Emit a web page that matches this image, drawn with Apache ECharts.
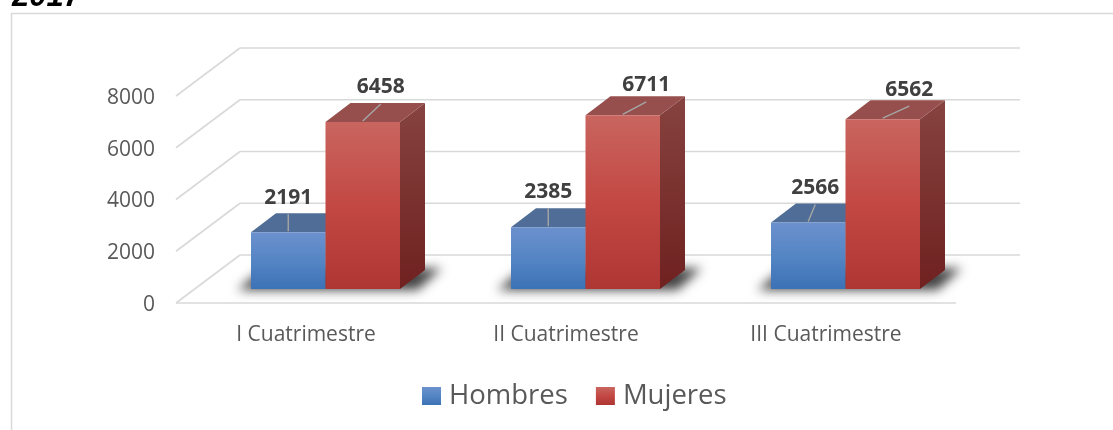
<!DOCTYPE html>
<html>
<head>
<meta charset="utf-8">
<style>html,body{margin:0;padding:0;background:#fff}#c{width:1113px;height:430px}</style>
<script src="https://cdn.jsdelivr.net/npm/echarts@6/dist/echarts.min.js"></script>
</head>
<body>
<div id="c"></div>
<script>
const categories = ['I Cuatrimestre', 'II Cuatrimestre', 'III Cuatrimestre'];
const hombres = [2191, 2385, 2566];
const mujeres = [6458, 6711, 6562];
const yTicks = [0, 2000, 4000, 6000, 8000];
const chartYear = '2017';

const FONT = '"Open Sans", sans-serif';
const WALL = [64, -48], BAR_DEPTH = [25, -19], BAR_LIFT = [19.5, -14], BAR_W = 74.5;
// label displacement from the bar's front top edge, per series then category
const LABEL_SHIFT = {
  Hombres: [[0, -36], [0, -37], [7, -36]],
  Mujeres: [[18, -36], [23.5, -31.5], [26.5, -31]]
};
const grad = (stops) => ({type: 'linear', x: 0, y: 0, x2: 0, y2: 1,
  colorStops: stops.map((c, i) => ({offset: i / (stops.length - 1), color: c}))});
const FRONT = {
  Hombres: grad(['#6b91cd', '#5585c4', '#3b72b6']),
  Mujeres: grad(['#c9655f', '#c34843', '#ae3633'])
};
const TOP = {Hombres: '#4f6d96', Mujeres: '#964f4c'};
const SIDE = {Hombres: grad(['#3d5a85', '#2c4a75']), Mujeres: grad(['#86433f', '#6f2120'])};
const OFF = 3000; // the shadow caster sits off-canvas so only its soft shadow shows

function wallItem(params, api) {
  const v = api.value(0), cs = params.coordSys;
  const p = api.coord([0, v]);
  const y = p[1], x0 = cs.x, x1 = cs.x + cs.width;
  const st = {stroke: '#d9d9d9', lineWidth: 1.6, fill: null};
  const kids = [
    {type: 'line', shape: {x1: x0, y1: y, x2: x0 + WALL[0], y2: y + WALL[1]}, style: st},
    {type: 'line', shape: {x1: x0 + WALL[0], y1: y + WALL[1], x2: x1 + WALL[0], y2: y + WALL[1]}, style: st}
  ];
  if (v === 0) kids.push({type: 'line', shape: {x1: x0, y1: y, x2: x1, y2: y}, style: st});
  return {type: 'group', silent: true, children: kids};
}

function shadowItem(params, api) {
  const c = api.coord([api.value(0), 0]);
  const bx = c[0] + BAR_LIFT[0], by = c[1] + BAR_LIFT[1];
  const pts = [[bx - 88, by + 1], [bx - 66, by - 17], [bx + 116, by - 21], [bx + 92, by + 1]]
    .map(p => [p[0] - OFF, p[1]]);
  return {type: 'polygon', silent: true, shape: {points: pts},
    style: {fill: '#000', shadowBlur: 11, shadowOffsetX: OFF, shadowColor: 'rgba(20,20,20,0.8)'}};
}

function barItem(name, sign) {
  return function (params, api) {
    const i = api.value(0), v = api.value(1);
    const base = api.coord([i, 0]), top = api.coord([i, v]);
    const xl = base[0] + BAR_LIFT[0] + (sign < 0 ? -BAR_W : 0);
    const xr = xl + BAR_W;
    const yb = base[1] + BAR_LIFT[1], yt = top[1] + BAR_LIFT[1];
    const dx = BAR_DEPTH[0], dy = BAR_DEPTH[1];
    const xm = (xl + xr) / 2;
    const sh = LABEL_SHIFT[name][i];
    const lx = xm + sh[0], ly = yt + sh[1];
    return {type: 'group', children: [
      {type: 'polygon', shape: {points: [[xr, yb], [xr, yt], [xr + dx, yt + dy], [xr + dx, yb + dy]]},
        style: {fill: SIDE[name]}},
      {type: 'polygon', shape: {points: [[xl, yt], [xl + dx, yt + dy], [xr + dx, yt + dy], [xr, yt]]},
        style: {fill: TOP[name]}},
      {type: 'rect', shape: {x: xl, y: yt, width: BAR_W, height: yb - yt},
        style: {fill: FRONT[name]}},
      {type: 'line', shape: {x1: xm, y1: yt - 1, x2: lx, y2: ly + 18},
        style: {stroke: '#a6a6a6', lineWidth: 1.4}},
      {type: 'text', style: {text: String(v), x: lx, y: ly + 1.5, align: 'center', verticalAlign: 'middle',
        fill: '#404040', font: 'bold 21px ' + FONT}}
    ]};
  };
}

const chart = echarts.init(document.getElementById('c'));
chart.setOption({
  animation: false,
  backgroundColor: '#fff',
  title: {text: chartYear, left: 12, top: -18, padding: 0,
    textStyle: {fontFamily: '"Liberation Sans"', fontStyle: 'italic', fontWeight: 'bold', fontSize: 31, color: '#000'}},
  grid: {left: 176, right: 157, top: 96, bottom: 127, containLabel: false},
  xAxis: {type: 'category', data: categories, boundaryGap: true,
    axisLine: {show: false}, axisTick: {show: false}, splitLine: {show: false},
    axisLabel: {color: '#595959', fontFamily: FONT, fontSize: 21, margin: 22}},
  yAxis: {type: 'value', min: 0, max: 8000, interval: 2000,
    axisLine: {show: false}, axisTick: {show: false}, splitLine: {show: false},
    axisLabel: {color: '#595959', fontFamily: FONT, fontSize: 21, margin: 21, verticalAlign: 'top', lineHeight: 4,
      formatter: (v) => String(v)}},
  legend: {data: ['Hombres', 'Mujeres'], left: 422, top: 382, padding: 0, icon: 'rect', itemWidth: 19, itemHeight: 18, itemGap: 28,
    textStyle: {color: '#595959', fontFamily: FONT, fontSize: 27.5, padding: [0, 0, 0, 3]}},
  graphic: [{type: 'polyline', silent: true, z: -1,
    shape: {points: [[11.5, 430], [11.5, 13.5], [1113, 13.5]]},
    style: {stroke: '#d9d9d9', lineWidth: 1.5, fill: null}}],
  series: [
    {type: 'custom', name: 'walls', z: 1, clip: false, data: yTicks.map(t => [t]), encode: {y: 0},
      renderItem: wallItem},
    {type: 'custom', name: 'shadow', z: 2, clip: false, data: categories.map((c, i) => [i]), encode: {x: 0},
      renderItem: shadowItem},
    {type: 'custom', name: 'Hombres', z: 3, clip: false, itemStyle: {color: FRONT.Hombres},
      data: hombres.map((v, i) => [i, v]), encode: {x: 0, y: 1}, renderItem: barItem('Hombres', -1)},
    {type: 'custom', name: 'Mujeres', z: 4, clip: false, itemStyle: {color: FRONT.Mujeres},
      data: mujeres.map((v, i) => [i, v]), encode: {x: 0, y: 1}, renderItem: barItem('Mujeres', 1)}
  ]
});
</script>
</body>
</html>
